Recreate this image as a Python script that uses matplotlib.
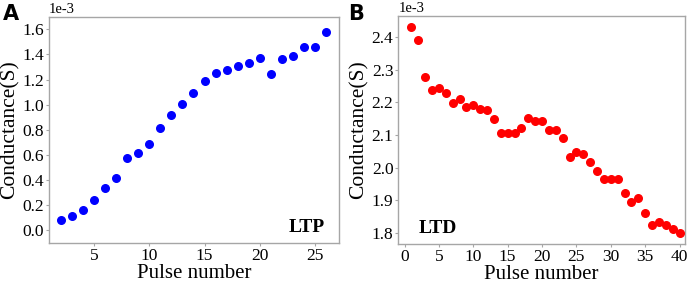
import matplotlib
matplotlib.use("Agg")
import matplotlib.pyplot as plt

# -----------------------
# Data
# -----------------------
ltp_pulse = list(range(2, 27))
ltp_cond = [0.085, 0.116, 0.161, 0.246, 0.339, 0.418, 0.574, 0.619, 0.688, 0.817,
            0.918, 1.003, 1.095, 1.190, 1.254, 1.278, 1.307, 1.328, 1.373, 1.241,
            1.365, 1.389, 1.460, 1.458, 1.577]

ltd_pulse = list(range(1, 41))
ltd_cond = [2.430, 2.392, 2.276, 2.237, 2.243, 2.229, 2.198, 2.210, 2.187, 2.192,
            2.178, 2.176, 2.150, 2.106, 2.107, 2.105, 2.120, 2.151, 2.142, 2.144,
            2.114, 2.114, 2.092, 2.033, 2.048, 2.042, 2.018, 1.989, 1.964, 1.966,
            1.965, 1.922, 1.895, 1.907, 1.862, 1.824, 1.834, 1.824, 1.811, 1.800]

ltp_cond = [v * 1e-3 for v in ltp_cond]
ltd_cond = [v * 1e-3 for v in ltd_cond]

# -----------------------
# Style
# -----------------------
plt.rcParams["font.family"] = "serif"
plt.rcParams["font.serif"] = ["Liberation Serif", "DejaVu Serif"]
plt.rcParams["axes.unicode_minus"] = False

SERIF = "Liberation Serif"

fig = plt.figure(figsize=(6.92, 2.83), dpi=100)
ax1 = fig.add_axes([0.0708, 0.1413, 0.4192, 0.7997])
ax2 = fig.add_axes([0.5756, 0.1378, 0.4143, 0.8067])

def style(ax):
    for s in ax.spines.values():
        s.set_color("#a6a6a6")
        s.set_linewidth(1.0)
    ax.tick_params(length=2, width=0.8, color="#a6a6a6", labelsize=12.5, pad=1.5)
    ax.ticklabel_format(axis="y", style="sci", scilimits=(-3, -3))
    for lab in ax.get_xticklabels() + ax.get_yticklabels():
        lab.set_fontfamily(SERIF)
    off = ax.yaxis.get_offset_text()
    off.set_fontsize(10.5)
    off.set_fontfamily(SERIF)
    ax.set_xlabel("Pulse number", fontsize=15, labelpad=0, fontfamily=SERIF)
    ax.set_ylabel("Conductance(S)", fontsize=15.5, labelpad=2, fontfamily=SERIF)

# Panel A: LTP
ax1.scatter(ltp_pulse, ltp_cond, s=30, color="blue", zorder=3)
ax1.set_xlim(0.9, 27.2)
ax1.set_ylim(-0.1e-3, 1.7e-3)
ax1.set_xticks([5, 10, 15, 20, 25])
ax1.set_yticks([i * 0.2e-3 for i in range(9)])
style(ax1)
ax1.text(0.95, 0.03, "LTP", transform=ax1.transAxes, ha="right", va="bottom",
         fontsize=14, fontweight="bold", fontfamily=SERIF)

# Panel B: LTD
ax2.scatter(ltd_pulse, ltd_cond, s=30, color="red", zorder=3)
ax2.set_xlim(-0.9, 40.8)
ax2.set_ylim(1.766e-3, 2.465e-3)
ax2.set_xticks([0, 5, 10, 15, 20, 25, 30, 35, 40])
ax2.set_yticks([1.8e-3, 1.9e-3, 2.0e-3, 2.1e-3, 2.2e-3, 2.3e-3, 2.4e-3])
style(ax2)
ax2.text(0.07, 0.03, "LTD", transform=ax2.transAxes, ha="left", va="bottom",
         fontsize=14, fontweight="bold", fontfamily=SERIF)

# Panel letters
fig.text(0.004, 0.985, "A", fontsize=15, fontweight="bold", family="DejaVu Sans",
         ha="left", va="top")
fig.text(0.503, 0.985, "B", fontsize=15, fontweight="bold", family="DejaVu Sans",
         ha="left", va="top")

fig.savefig("out.png", dpi=100)
